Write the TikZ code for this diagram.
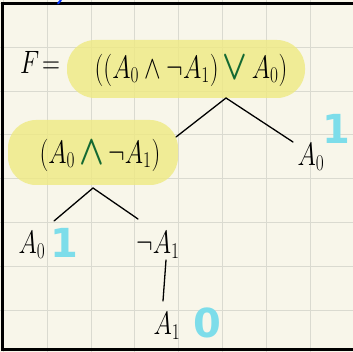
\documentclass[tikz,border=0pt]{standalone}
\usepackage{amsmath,amssymb}
\usepackage{graphicx}
\usepackage{fontspec}
\newfontfamily\valfont{DejaVu Sans}
\definecolor{paper}{RGB}{248,246,234}
\definecolor{gridc}{RGB}{218,218,208}
\definecolor{hl}{RGB}{238,234,130}
\definecolor{val}{RGB}{125,221,234}
\definecolor{opg}{RGB}{20,105,50}
\begin{document}
\begin{tikzpicture}[x=1pt,y=-1pt,
  formula/.style={inner sep=0pt, font=\fontsize{25}{30}\selectfont},
  valtxt/.style={inner sep=0pt, text=val, font=\fontsize{40}{44}\valfont\bfseries},
  edge/.style={line width=1.3pt, line cap=round},
  hlbox/.style={fill=hl, fill opacity=0.8, rounded corners=28pt}]
\useasboundingbox (0,0) rectangle (353,352);
\fill[paper] (0,0) rectangle (353,352);
\foreach \i in {0,...,8} {
  \draw[gridc, line width=0.9pt] ({3.5+43.8*\i},0) -- ({3.5+43.8*\i},352);
  \draw[gridc, line width=0.9pt] (0,{3.5+43.8*\i}) -- (353,{3.5+43.8*\i});
}
\draw[line width=3pt] (353,4) -- (2,4) -- (2,349) -- (353,349);
\draw[blue!80!cyan, line width=2pt, line cap=round] (58,3.5) -- (61,0);
% highlights
\fill[hlbox] (67,40) rectangle (305,98);
\fill[hlbox] (8,120) rectangle (178,185);
% texts
\node[formula] (F) at (40,62) {\scalebox{1}[1.3]{$F\!=$}};
\node[formula] (top) at (191,70) {\scalebox{1}[1.3]{$((A_0\land\lnot A_1)\,\raisebox{-1pt}{\scalebox{1.3}{\color{opg}$\boldsymbol{\lor}$}}\,A_0)$}};
\node[formula] (left) at (100,155) {\scalebox{1}[1.3]{$(A_0\,\raisebox{-1pt}{\scalebox{1.3}{\color{opg}$\boldsymbol{\land}$}}\,\lnot A_1)$}};
\node[formula] (right) at (311,157) {\scalebox{1}[1.3]{$A_0$}};
\node[valtxt] (vr) at (336,129) {1};
\node[formula] (a0) at (32,245) {\scalebox{1}[1.3]{$A_0$}};
\node[formula] (na1) at (158,245) {\scalebox{1}[1.3]{$\lnot A_1$}};
\node[formula] (a1) at (167,326) {\scalebox{1}[1.3]{$A_1$}};
\node[valtxt] (va0) at (64,243) {1};
\node[valtxt] (va1) at (207,323) {0};
% connector ends
\coordinate (topb) at (226,98);
\coordinate (leftt) at (176,137);
\coordinate (rightt) at (293,142);
\coordinate (leftb) at (93,188);
\coordinate (a0t) at (54,221);
\coordinate (na1t) at (138,219);
\coordinate (na1b) at (166,260);
\coordinate (a1t) at (163,301);
\draw[edge] (leftt) -- (topb) -- (rightt);
\draw[edge] (a0t) -- (leftb) -- (na1t);
\draw[edge] (na1b) -- (a1t);
\end{tikzpicture}
\end{document}
